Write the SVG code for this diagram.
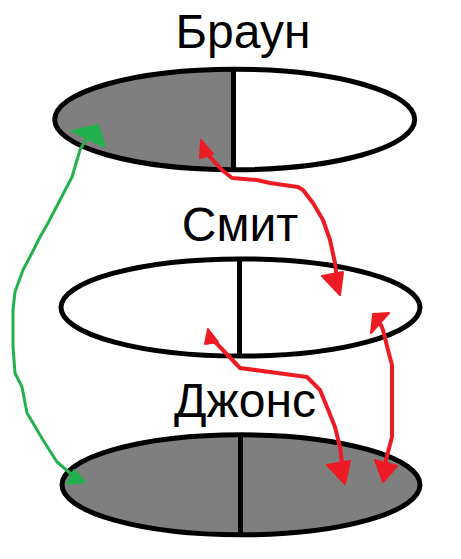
<svg xmlns="http://www.w3.org/2000/svg" width="461" height="559" viewBox="0 0 461 559">
  <style>
    .lbl { font-family: "Liberation Sans", Arial, sans-serif; font-size: 48px; fill: #000; text-anchor: middle; }
    .ring { stroke: #000; stroke-width: 5; }
    .div { stroke: #000; stroke-width: 5; }
    .red { fill: none; stroke: #ed1c24; stroke-width: 4; stroke-linejoin: round; stroke-linecap: round; }
    .redh { fill: #ed1c24; stroke: #ed1c24; stroke-width: 2; stroke-linejoin: round; }
    .grn { fill: none; stroke: #22b14c; stroke-width: 3; stroke-linejoin: round; stroke-linecap: round; }
    .grnh { fill: #22b14c; stroke: #22b14c; stroke-width: 2; stroke-linejoin: round; }
  </style>
  <defs>
    <clipPath id="topLeft"><rect x="0" y="0" width="233.5" height="200"/></clipPath>
  </defs>
  <rect width="461" height="559" fill="#fff"/>

  <g id="node-brown">
    <ellipse cx="234.7" cy="119.5" rx="180" ry="50.2" fill="#fff"/>
    <ellipse cx="234.7" cy="119.5" rx="180" ry="50.2" fill="#7f7f7f" clip-path="url(#topLeft)"/>
    <ellipse class="ring" cx="234.7" cy="119.5" rx="180" ry="50.2" fill="none"/>
    <line class="div" x1="233.5" y1="69" x2="233.5" y2="170"/>
    <text class="lbl" x="243" y="48">Браун</text>
  </g>

  <g id="node-smith">
    <ellipse class="ring" cx="240.5" cy="307.5" rx="179.5" ry="48.6" fill="#fff"/>
    <line class="div" x1="239.5" y1="259" x2="239.5" y2="356"/>
    <text class="lbl" x="240" y="241">Смит</text>
  </g>

  <g id="node-jones">
    <ellipse class="ring" cx="241" cy="484.8" rx="179" ry="50" fill="#7f7f7f"/>
    <line class="div" x1="240.5" y1="435" x2="240.5" y2="535"/>
    <text class="lbl" x="245" y="417">Джонс</text>
  </g>

  <g id="connectors">
    <!-- red: Браун <-> Смит -->
    <polyline class="red" points="205,150 210,157 222,170 232,178 257,180 270,183 298,187 303,190 313,203 323,220 330,240 335,263 337,280 339,288"/>
    <polygon class="redh" points="201,140 200,158 213,154"/>
    <polygon class="redh" points="322,276 343,272 340,295"/>

    <!-- red: Смит <-> Джонс (left) -->
    <polyline class="red" points="211,338 220,347 240,368 270,372 307,377 320,390 327,407 335,427 340,447 343,470"/>
    <polygon class="redh" points="208,329 205,344 218,342"/>
    <polygon class="redh" points="327,465 350,461 345,484"/>

    <!-- red: Смит <-> Джонс (right) -->
    <polyline class="red" points="381,325 383,330 388,350 392,365 392,395 392,437 388,452 385,465"/>
    <polygon class="redh" points="373,314 389,313 371,333"/>
    <polygon class="redh" points="375,460 397,466 383,482"/>

    <!-- green: Браун <-> Джонс -->
    <polyline class="grn" points="90,134 87,138 80,150 72,177 60,200 48,223 40,237 32,253 23,270 15,292 13,310 13,347 15,373 22,387 27,413 33,423 43,440 57,462 70,473 76,478"/>
    <polygon class="grnh" points="72,131 98,125 105,147"/>
    <polygon class="grnh" points="67,484 85,482 74,470"/>
  </g>
</svg>
